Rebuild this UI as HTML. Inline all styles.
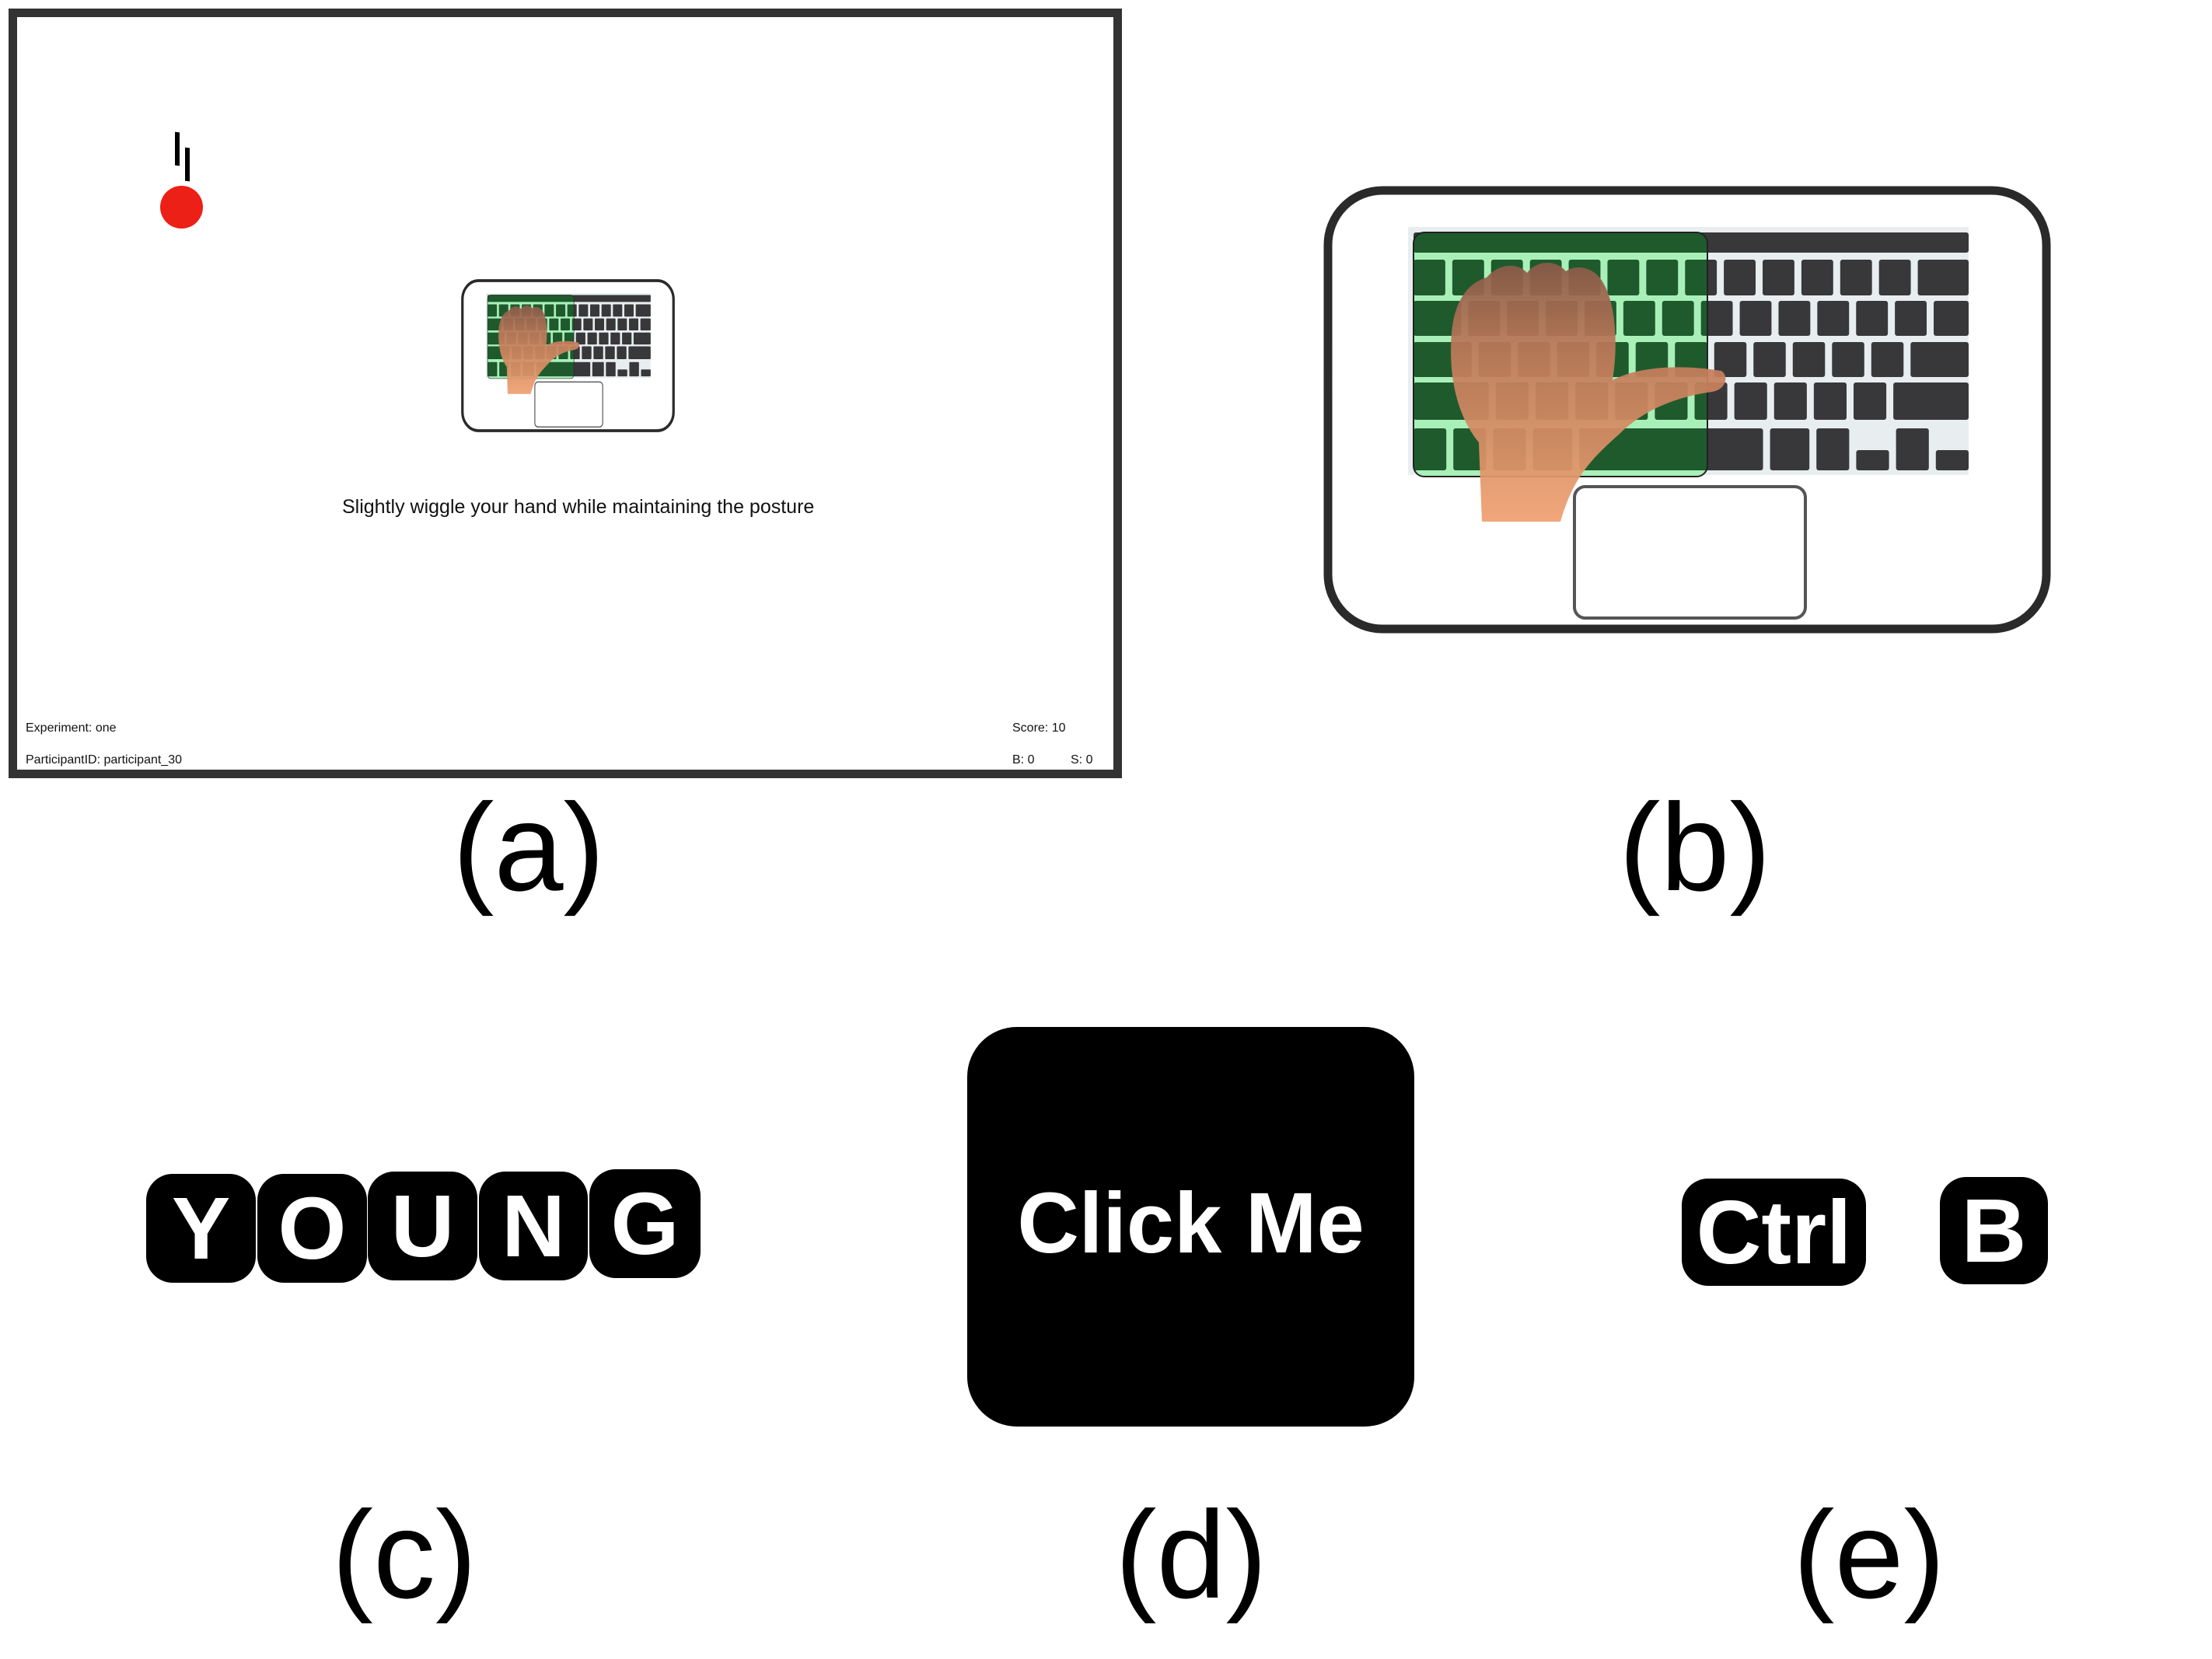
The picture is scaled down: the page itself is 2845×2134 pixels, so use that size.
<!DOCTYPE html>
<html><head><meta charset="utf-8"><style>
html,body{margin:0;padding:0;background:#fff}
body{width:2845px;height:2134px;position:relative;overflow:hidden;font-family:"Liberation Sans",sans-serif}
.abs{position:absolute}
.lbl{position:absolute;font-size:160px;line-height:1;transform:translate(-50%,-50%);color:#000}
.tile{position:absolute;background:#000;border-radius:34px;color:#fff;font-weight:bold;display:flex;align-items:center;justify-content:center}
.small{position:absolute;font-size:16px;color:#111;white-space:nowrap}
</style></head><body>
<svg width="0" height="0" style="position:absolute">
<defs>
<linearGradient id="skin" x1="0" y1="0" x2="0" y2="1">
<stop offset="0" stop-color="#8a5a48"/><stop offset="0.35" stop-color="#c07a5a"/><stop offset="1" stop-color="#f0a070"/>
</linearGradient>
<clipPath id="greenclip"><rect x="116" y="60" width="378" height="314" rx="14"/></clipPath>
<symbol id="laptop" viewBox="0 0 936 576" preserveAspectRatio="none">
<rect x="6" y="6" width="924" height="564" rx="70" fill="#fff" stroke="#2a2a2a" stroke-width="11"/>
<rect x="109" y="53" width="721" height="319" fill="#e8eef0"/>
<g id="keysDark"></g>
<g clip-path="url(#greenclip)">
<rect x="116" y="60" width="378" height="314" fill="#a8f0b8"/>
<g id="keysGreen"></g>
</g>
<rect x="116" y="60" width="378" height="314" rx="14" fill="none" stroke="#222" stroke-width="2"/>
<rect x="323" y="387" width="297" height="169" rx="14" fill="#fff" stroke="#555" stroke-width="4"/>
<path d="M204,432 L200,330 C175,300 160,250 165,190 C168,150 185,125 210,118 C225,100 250,98 262,112 C275,95 300,95 312,110 C325,100 350,105 360,125 C375,150 380,200 372,250 C400,235 450,228 512,238 C522,245 518,262 500,265 C450,272 410,290 380,320 C340,355 320,380 305,432 Z" fill="url(#skin)" opacity="0.93"/>
</symbol>
</defs>
</svg>

<!-- panel a -->
<div class="abs" style="left:11px;top:11px;width:1410px;height:968px;border:11px solid #333;background:#fff"></div>
<div class="abs" style="left:225px;top:170px;width:6px;height:43px;background:#000;transform:skewY(8deg)"></div>
<div class="abs" style="left:238px;top:190px;width:6px;height:43px;background:#000;transform:skewY(8deg)"></div>
<div class="abs" style="left:206px;top:239px;width:55px;height:55px;border-radius:50%;background:#ec2016"></div>
<svg class="abs" style="left:593px;top:359px" width="275" height="197"><use href="#laptop" width="275" height="197"/></svg>
<div class="abs" style="left:440px;top:638px;width:800px;white-space:nowrap;font-size:25px;color:#111">Slightly wiggle your hand while maintaining the posture</div>
<div class="small" style="left:33px;top:928px">Experiment: one</div>
<div class="small" style="left:33px;top:969px">ParticipantID: participant_30</div>
<div class="small" style="left:1302px;top:928px">Score: 10</div>
<div class="small" style="left:1302px;top:969px">B: 0</div>
<div class="small" style="left:1377px;top:969px">S: 0</div>
<div class="lbl" style="left:680px;top:1090px">(a)</div>

<!-- panel b -->
<svg class="abs" style="left:1702px;top:239px" width="936" height="576"><use href="#laptop" width="936" height="576"/></svg>
<div class="lbl" style="left:2180px;top:1090px">(b)</div>

<!-- panel c -->
<div class="tile" style="left:188px;top:1510px;width:141px;height:140px;font-size:113px">Y</div>
<div class="tile" style="left:331px;top:1510px;width:141px;height:140px;font-size:113px">O</div>
<div class="tile" style="left:473px;top:1507px;width:141px;height:140px;font-size:113px">U</div>
<div class="tile" style="left:616px;top:1507px;width:140px;height:140px;font-size:113px">N</div>
<div class="tile" style="left:758px;top:1504px;width:143px;height:140px;font-size:113px">G</div>
<div class="lbl" style="left:520px;top:2000px">(c)</div>

<!-- panel d -->
<div class="tile" style="left:1244px;top:1321px;width:575px;height:514px;border-radius:64px;font-size:110px;padding-bottom:10px;box-sizing:border-box">Click Me</div>
<div class="lbl" style="left:1532px;top:2000px">(d)</div>

<!-- panel e -->
<div class="tile" style="left:2163px;top:1516px;width:237px;height:138px;font-size:116px">Ctrl</div>
<div class="tile" style="left:2495px;top:1514px;width:139px;height:138px;font-size:116px">B</div>
<div class="lbl" style="left:2404px;top:2000px">(e)</div>

<script>
var NS="http://www.w3.org/2000/svg";
var rowsY=[[60,86],[95,141],[148,193],[201,246],[253,301],[312,366]];
var rowsW=[[14],[1,1,1,1,1,1,1,1,1,1,1,1,1,1.6],[1.5,1,1,1,1,1,1,1,1,1,1,1,1,1.1],[1.8,1,1,1,1,1,1,1,1,1,1,1,1.8],[2.3,1,1,1,1,1,1,1,1,1,1,2.3],[1,1,1,1.2,5.6,1.2,1,1,1,1]];
function build(g,fill){
  for(var r=0;r<rowsY.length;r++){
    var ws=rowsW[r],tot=0;for(var i=0;i<ws.length;i++)tot+=ws[i];
    var gap=9,avail=714-gap*(ws.length-1),x=116;
    for(var i=0;i<ws.length;i++){
      var w=avail*ws[i]/tot,y0=rowsY[r][0],y1=rowsY[r][1];
      if(r==5&&(i==7||i==9)){y0=y0+28;}
      var k=document.createElementNS(NS,"rect");
      k.setAttribute("x",x);k.setAttribute("y",y0);k.setAttribute("width",w);k.setAttribute("height",y1-y0);
      k.setAttribute("rx",3);k.setAttribute("fill",fill);
      g.appendChild(k);x+=w+gap;
    }
  }
}
build(document.getElementById("keysDark"),"#38383a");
build(document.getElementById("keysGreen"),"#1f5a2d");
</script>
</body></html>
